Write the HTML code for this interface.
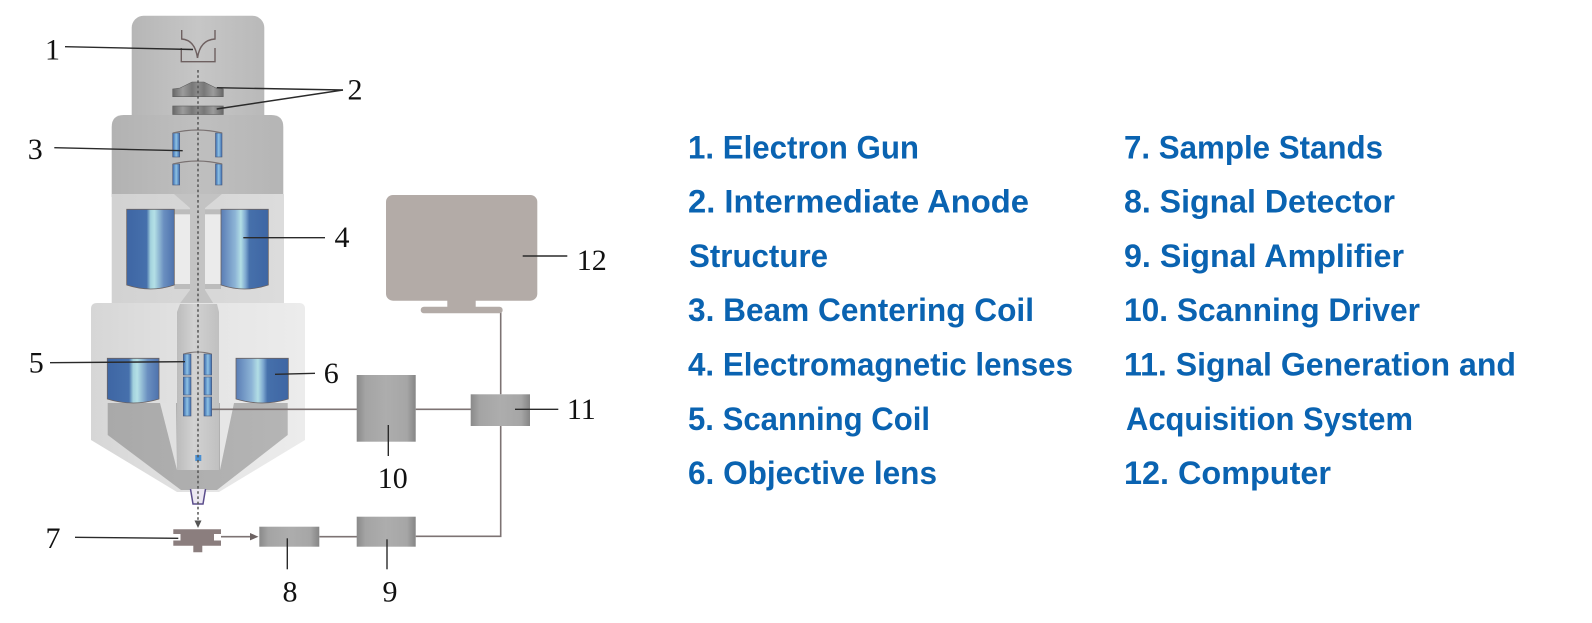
<!DOCTYPE html>
<html>
<head>
<meta charset="utf-8">
<style>
html,body{margin:0;padding:0;background:#fff;}
svg{display:block;}
.leg{font-family:"Liberation Sans",Arial,sans-serif;font-weight:bold;font-size:32px;fill:#0a63b1;}
.num{font-family:"Liberation Serif","Times New Roman",serif;font-size:30px;fill:#111;text-anchor:middle;}
</style>
</head>
<body>
<svg width="1592" height="623" viewBox="0 0 1592 623" xmlns="http://www.w3.org/2000/svg">
<defs>
  <linearGradient id="gTop" x1="0" x2="1" y1="0" y2="0">
    <stop offset="0" stop-color="#b6b6b6"/><stop offset="0.5" stop-color="#c6c6c6"/><stop offset="1" stop-color="#b9b9b9"/>
  </linearGradient>
  <linearGradient id="gSec" x1="0" x2="1" y1="0" y2="0">
    <stop offset="0" stop-color="#b2b2b2"/><stop offset="0.5" stop-color="#bfbfbf"/><stop offset="1" stop-color="#b5b5b5"/>
  </linearGradient>
  <linearGradient id="gBand" x1="0" x2="1" y1="0" y2="0">
    <stop offset="0" stop-color="#d2d2d2"/><stop offset="1" stop-color="#dcdcdc"/>
  </linearGradient>
  <linearGradient id="gLow" x1="0" x2="1" y1="0" y2="0">
    <stop offset="0" stop-color="#d6d6d6"/><stop offset="0.6" stop-color="#e6e6e6"/><stop offset="1" stop-color="#ececec"/>
  </linearGradient>
  <linearGradient id="gDark" x1="0" x2="1" y1="0" y2="0">
    <stop offset="0" stop-color="#a9a9a9"/><stop offset="1" stop-color="#b5b5b5"/>
  </linearGradient>
  <linearGradient id="gTube" x1="0" x2="1" y1="0" y2="0">
    <stop offset="0" stop-color="#bcbcbc"/><stop offset="0.4" stop-color="#d2d2d2"/><stop offset="1" stop-color="#c0c0c0"/>
  </linearGradient>
  <linearGradient id="gBL" x1="0" x2="1" y1="0" y2="0">
    <stop offset="0" stop-color="#3e66a4"/><stop offset="0.42" stop-color="#4670ac"/>
    <stop offset="0.5" stop-color="#a3d2dd"/><stop offset="0.58" stop-color="#b4e0e6"/>
    <stop offset="0.78" stop-color="#6a8fc0"/><stop offset="1" stop-color="#4d72ad"/>
  </linearGradient>
  <linearGradient id="gBR" x1="0" x2="1" y1="0" y2="0">
    <stop offset="0" stop-color="#5a7db5"/><stop offset="0.3" stop-color="#8db4d6"/>
    <stop offset="0.42" stop-color="#b2dee5"/><stop offset="0.52" stop-color="#7ea8d0"/>
    <stop offset="0.6" stop-color="#4670ab"/><stop offset="1" stop-color="#3e66a4"/>
  </linearGradient>
  <linearGradient id="gCoil" x1="0" x2="1" y1="0" y2="0">
    <stop offset="0" stop-color="#3a68ad"/><stop offset="0.5" stop-color="#8ec2e4"/><stop offset="1" stop-color="#3c6aae"/>
  </linearGradient>
  <linearGradient id="gAn" x1="0" x2="1" y1="0" y2="0">
    <stop offset="0" stop-color="#676767"/><stop offset="0.2" stop-color="#9c9c9c"/><stop offset="0.38" stop-color="#777"/>
    <stop offset="0.5" stop-color="#8c8c8c"/><stop offset="0.62" stop-color="#777"/><stop offset="0.8" stop-color="#9c9c9c"/><stop offset="1" stop-color="#676767"/>
  </linearGradient>
  <linearGradient id="gBox" x1="0" x2="1" y1="0" y2="0">
    <stop offset="0" stop-color="#8a8a8a"/><stop offset="0.15" stop-color="#a4a4a4"/><stop offset="0.5" stop-color="#adadad"/>
    <stop offset="0.85" stop-color="#a6a6a6"/><stop offset="1" stop-color="#858585"/>
  </linearGradient>
</defs>

<rect width="1592" height="623" fill="#fff"/>

<!-- top gun housing -->
<rect x="131.7" y="15.7" width="132.6" height="112" rx="12" fill="url(#gTop)"/>
<!-- section 2 -->
<path d="M111.7,197 V127 Q111.7,115 123.7,115 H271.3 Q283.3,115 283.3,127 V197 Z" fill="url(#gSec)"/>
<!-- lens 4 band -->
<rect x="111.7" y="194" width="172.3" height="112" fill="url(#gBand)"/>
<rect x="174.3" y="214" width="16" height="70" fill="#ebebeb"/>
<rect x="205" y="214" width="16" height="70" fill="#ebebeb"/>
<rect x="174.3" y="209.3" width="16" height="5" fill="#bcbcbc"/>
<rect x="205" y="209.3" width="16" height="5" fill="#bcbcbc"/>
<rect x="174.3" y="284" width="16" height="5" fill="#bcbcbc"/>
<rect x="205" y="284" width="16" height="5" fill="#bcbcbc"/>
<path d="M174,194 H222 L205,208 V290 L215,306 H178 L190,290 V208 Z" fill="#c3c3c3"/>

<!-- lower housing -->
<path d="M91,309 Q91,303 97,303 H299 Q305,303 305,309 V440 L219,492 H177 L91,440 Z" fill="url(#gLow)"/>
<path d="M107.7,403 H287.7 V435 L217,490 H181 L107.7,435 Z" fill="url(#gDark)"/>
<path d="M160,403 H176 L177,470 Z" fill="#e0e0e0"/>
<path d="M220,403 H234 L220,470 Z" fill="#e6e6e6"/>
<path d="M180,304 H217 L219,312 V470 H177 V312 Z" fill="url(#gTube)"/>

<!-- lens 4 blocks -->
<path d="M126.7,209.3 H174.3 V285 Q150.5,293 126.7,285 Z" fill="url(#gBL)" stroke="#6a6262" stroke-width="0.8"/>
<path d="M221,209.3 H268.3 V285 Q244.6,293 221,285 Z" fill="url(#gBR)" stroke="#6a6262" stroke-width="0.8"/>
<!-- lens 6 blocks -->
<path d="M107.3,358.3 H159 V399 Q133.2,407 107.3,399 Z" fill="url(#gBL)" stroke="#6a6262" stroke-width="0.8"/>
<path d="M236,358.3 H288.3 V399 Q262.2,407 236,399 Z" fill="url(#gBR)" stroke="#6a6262" stroke-width="0.8"/>

<!-- electron gun symbol -->
<g fill="none" stroke="#6e6060" stroke-width="1.4">
  <path d="M181.7,30 V39 Q195,40 197.5,58"/>
  <path d="M215,30 V39 Q200,40 197.5,58"/>
  <path d="M181.3,48 V61.7 H215 V48"/>
</g>

<!-- anode 2 -->
<path d="M172.7,96.7 V89 L180,88 L192,82 H204 L216,88 L223.3,89 V96.7 Z" fill="url(#gAn)" stroke="#5e5e5e" stroke-width="0.6"/>
<rect x="172.7" y="106" width="50.6" height="8.5" fill="url(#gAn)" stroke="#5e5e5e" stroke-width="0.6"/>

<!-- coil 3 -->
<g stroke="#4a5a7a" stroke-width="0.6" fill="url(#gCoil)">
  <rect x="172.7" y="133" width="7" height="24"/>
  <rect x="215.5" y="133" width="6.5" height="24"/>
  <rect x="172.7" y="164" width="7" height="21"/>
  <rect x="215.5" y="164" width="6.5" height="21"/>
</g>
<g fill="none" stroke="#7a7272" stroke-width="1.2">
  <path d="M173,133 Q197,127 222,133"/>
  <path d="M173,164 Q197,158 222,164"/>
</g>

<!-- scanning coil 5 -->
<g stroke="#4a5a7a" stroke-width="0.6" fill="url(#gCoil)">
  <rect x="183.3" y="354" width="7.7" height="21"/>
  <rect x="183.3" y="377" width="7.7" height="18"/>
  <rect x="183.3" y="397" width="7.7" height="19"/>
  <rect x="204" y="354" width="7.7" height="21"/>
  <rect x="204" y="377" width="7.7" height="18"/>
  <rect x="204" y="397" width="7.7" height="19"/>
</g>
<path d="M183.5,354 Q197.5,350 211.5,354" fill="none" stroke="#7a7272" stroke-width="1"/>

<!-- tip -->
<path d="M190.5,489 L193,504 H203 L205.5,489" fill="#ece8f2" stroke="#5b4d8c" stroke-width="1.5"/>
<rect x="195.3" y="455" width="6" height="6" fill="#4a90d2"/>

<!-- beam -->
<line x1="198" y1="70" x2="198" y2="521" stroke="#555" stroke-width="1.5" stroke-dasharray="2.6 2.6"/>
<polygon points="194.5,520.5 201.5,520.5 198,528" fill="#555"/>

<!-- sample stand -->
<path d="M173.3,529.3 H221 V534 H214 V540.5 H221 V545.7 H202.3 V552.3 H193.3 V545.7 H173.3 V540.5 H180.5 V534 H173.3 Z" fill="#8b7e7e"/>

<!-- connectors -->
<g stroke="#7d7373" stroke-width="1.6" fill="none">
  <line x1="212" y1="409.3" x2="357" y2="409.3"/>
  <line x1="415.7" y1="409.3" x2="471" y2="409.3"/>
  <polyline points="500.7,311 500.7,394.3"/>
  <polyline points="500.7,426 500.7,536.3 415.7,536.3"/>
  <line x1="319.3" y1="536.7" x2="357" y2="536.7"/>
  <line x1="221" y1="536.7" x2="251" y2="536.7"/>
</g>
<polygon points="250,533 258.5,536.7 250,540.4" fill="#6d6363"/>

<!-- boxes -->
<rect x="259.3" y="526.7" width="60" height="20" fill="url(#gBox)"/>
<rect x="356.7" y="516.7" width="59" height="30" fill="url(#gBox)"/>
<rect x="356.7" y="375" width="59" height="66.7" fill="url(#gBox)"/>
<rect x="470.7" y="394.3" width="59.3" height="31.7" fill="url(#gBox)"/>

<!-- monitor -->
<rect x="386" y="195" width="151.3" height="105.7" rx="7" fill="#b3aba7"/>
<rect x="447.3" y="299" width="28.4" height="9" fill="#b3aba7"/>
<rect x="420.7" y="306.7" width="82" height="6.6" rx="3.3" fill="#b3aba7"/>

<!-- leader lines -->
<g stroke="#2a2a2a" stroke-width="1.4" fill="none">
  <line x1="65" y1="46.7" x2="193" y2="49.5"/>
  <line x1="343" y1="90" x2="216.7" y2="87.7"/>
  <line x1="343" y1="90" x2="216.7" y2="109"/>
  <line x1="54.3" y1="147.7" x2="182.7" y2="150.7"/>
  <line x1="243.3" y1="237.7" x2="325" y2="237.7"/>
  <line x1="50" y1="362.7" x2="185" y2="361.7"/>
  <line x1="275" y1="374.3" x2="315" y2="373.3"/>
  <line x1="75" y1="537.3" x2="178.3" y2="538.3"/>
  <line x1="287.3" y1="538.3" x2="287.3" y2="569.3"/>
  <line x1="387" y1="539.3" x2="387" y2="569.3"/>
  <line x1="388.3" y1="425" x2="388.3" y2="456"/>
  <line x1="515" y1="409.3" x2="558.3" y2="409.3"/>
  <line x1="522.7" y1="256" x2="567.3" y2="256"/>
</g>

<!-- number labels -->
<text class="num" x="52.5" y="59.3">1</text>
<text class="num" x="355" y="99.3">2</text>
<text class="num" x="35.3" y="159">3</text>
<text class="num" x="342" y="247">4</text>
<text class="num" x="36.3" y="372.5">5</text>
<text class="num" x="331.3" y="383">6</text>
<text class="num" x="53" y="548">7</text>
<text class="num" x="290" y="601.5">8</text>
<text class="num" x="390" y="601.5">9</text>
<text class="num" x="392.7" y="488">10</text>
<text class="num" x="581.3" y="419">11</text>
<text class="num" x="591.7" y="270">12</text>

<!-- legend -->
<text class="leg" x="688" y="158.3" textLength="231" lengthAdjust="spacingAndGlyphs">1. Electron Gun</text>
<text class="leg" x="688" y="212.6" textLength="341" lengthAdjust="spacingAndGlyphs">2. Intermediate Anode</text>
<text class="leg" x="689" y="266.9" textLength="139" lengthAdjust="spacingAndGlyphs">Structure</text>
<text class="leg" x="688" y="321.2" textLength="346" lengthAdjust="spacingAndGlyphs">3. Beam Centering Coil</text>
<text class="leg" x="688" y="375.5" textLength="385" lengthAdjust="spacingAndGlyphs">4. Electromagnetic lenses</text>
<text class="leg" x="688" y="429.8" textLength="242" lengthAdjust="spacingAndGlyphs">5. Scanning Coil</text>
<text class="leg" x="688" y="484.1" textLength="249" lengthAdjust="spacingAndGlyphs">6. Objective lens</text>

<text class="leg" x="1124" y="158.3" textLength="259" lengthAdjust="spacingAndGlyphs">7. Sample Stands</text>
<text class="leg" x="1124" y="212.6" textLength="271" lengthAdjust="spacingAndGlyphs">8. Signal Detector</text>
<text class="leg" x="1124" y="266.9" textLength="280" lengthAdjust="spacingAndGlyphs">9. Signal Amplifier</text>
<text class="leg" x="1124" y="321.2" textLength="296" lengthAdjust="spacingAndGlyphs">10. Scanning Driver</text>
<text class="leg" x="1124" y="375.5" textLength="392" lengthAdjust="spacingAndGlyphs">11. Signal Generation and</text>
<text class="leg" x="1126" y="429.8" textLength="287" lengthAdjust="spacingAndGlyphs">Acquisition System</text>
<text class="leg" x="1124" y="484.1" textLength="207" lengthAdjust="spacingAndGlyphs">12. Computer</text>
</svg>
</body>
</html>
